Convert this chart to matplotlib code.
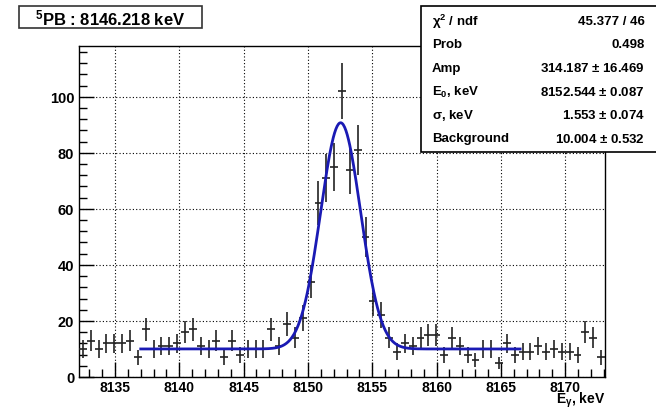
import matplotlib
matplotlib.use("Agg")
import matplotlib.pyplot as plt
from matplotlib.patches import Rectangle
from matplotlib.ticker import MultipleLocator
import numpy as np

plt.rcParams['font.family'] = ['Liberation Sans', 'DejaVu Sans']
plt.rcParams['font.weight'] = 'bold'
plt.rcParams['mathtext.fontset'] = 'custom'
plt.rcParams['mathtext.rm'] = 'Liberation Sans:bold'
plt.rcParams['mathtext.bf'] = 'Liberation Sans:bold'
plt.rcParams['mathtext.it'] = 'Liberation Sans:bold'
plt.rcParams['mathtext.default'] = 'bf'

# histogram: counts per bin
e_lo, e_hi, nbins = 8132.2, 8173.1, 67
counts = [10, 13, 10, 12, 12, 12, 13, 7, 17, 10,
          11, 11, 12, 16, 17, 11, 10, 13, 7, 13,
          8, 10, 10, 10, 17, 11, 19, 14, 21, 34,
          62, 71, 75, 102, 74, 81, 50, 27, 22, 14,
          9, 12, 11, 14, 15, 15, 8, 14, 11, 8,
          6, 10, 10, 5, 12, 8, 9, 9, 11, 9,
          10, 9, 9, 8, 16, 14, 7]

# gaussian + flat background fit
chi2, ndf, prob = 45.377, 46, 0.498
amp, amp_err = 314.187, 16.469
e0, e0_err = 8152.544, 0.087
sigma, sigma_err = 1.553, 0.074
bkg, bkg_err = 10.004, 0.532
fit_lo, fit_hi = 8137.0, 8166.5

W, H = 656, 410


def fx(px):
    return px / W


def fy(py):
    return 1 - py / H


fig = plt.figure(figsize=(W / 100, H / 100), dpi=100)
ax = fig.add_axes([fx(79), fy(378), (605 - 79) / W, (378 - 47) / H])

width = (e_hi - e_lo) / nbins
centers = e_lo + width * (np.arange(nbins) + 0.5)
counts = np.array(counts, dtype=float)
ax.errorbar(centers, counts, yerr=np.sqrt(counts), xerr=width / 2,
            fmt='none', ecolor='#222222', elinewidth=1.2, capsize=0, zorder=3)

x = np.linspace(fit_lo, fit_hi, 600)
y = bkg + amp / (sigma * np.sqrt(2 * np.pi)) * np.exp(-0.5 * ((x - e0) / sigma) ** 2)
ax.plot(x, y, color='#1a1ab4', lw=2.0, zorder=4)

ax.set_xlim(e_lo, e_hi)
ax.set_ylim(0, 118.1)
ax.xaxis.set_major_locator(MultipleLocator(5))
ax.xaxis.set_minor_locator(MultipleLocator(1))
ax.yaxis.set_major_locator(MultipleLocator(20))
ax.yaxis.set_minor_locator(MultipleLocator(4))
ax.tick_params(which='both', direction='in', top=False, right=False,
               labelsize=10.5, width=1, pad=3.5)
ax.tick_params(axis='x', labelsize=10, pad=2)
ax.tick_params(which='major', length=11)
ax.tick_params(which='minor', length=6)
for lbl in ax.get_xticklabels() + ax.get_yticklabels():
    lbl.set_fontweight('bold')
ax.grid(True, which='major', linestyle=(0, (1, 2)), color='black', lw=0.8)
for sp in ax.spines.values():
    sp.set_linewidth(1)

fig.text(fx(605), fy(404), r'E$_\gamma$, keV', ha='right', va='baseline',
         fontsize=10, fontweight='bold')

# title box
fig.add_artist(Rectangle((fx(19), fy(29.3)), (202 - 19) / W, 22 / H,
                         transform=fig.transFigure, fill=True, fc='white',
                         ec='#333333', lw=1.2))
fig.text(fx(110.5), fy(18.5), r'$^5$PB : 8146.218 keV', ha='center', va='center',
         fontsize=12, fontweight='bold')

# fit statistics box
fig.add_artist(Rectangle((fx(421), fy(152.5)), (W + 5 - 421) / W, (152.5 - 7) / H,
                         transform=fig.transFigure, fill=True, fc='white',
                         ec='black', lw=1.2, zorder=5))
rows = [
    (r'$\chi^2$ / ndf', f'{chi2:.3f} / {ndf}'),
    ('Prob', f'{prob:.3f}'),
    ('Amp', f'{amp:.3f} $\\pm$ {amp_err:.3f}'),
    (r'E$_0$, keV', f'{e0:.3f} $\\pm$ {e0_err:.3f}'),
    (r'$\sigma$, keV', f'{sigma:.3f} $\\pm$ {sigma_err:.3f}'),
    ('Background', f'{bkg:.3f} $\\pm$ {bkg_err:.3f}'),
]
for i, (name, val) in enumerate(rows):
    yy = fy(21.7 + 23.5 * i)
    fig.text(fx(432), yy, name, ha='left', va='center', fontsize=9.5,
             fontweight='bold', zorder=6)
    fig.text(fx(645), yy, val, ha='right', va='center', fontsize=9.5,
             fontweight='bold', zorder=6)

fig.savefig('out.png', dpi=100)
